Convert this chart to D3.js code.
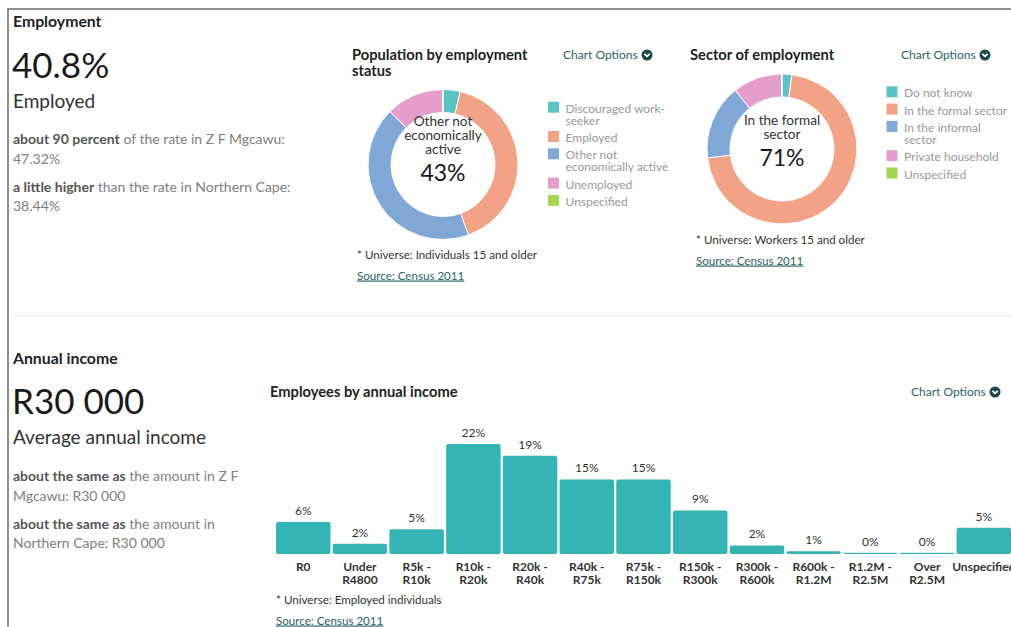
<!DOCTYPE html>
<html>
<head>
<meta charset="utf-8">
<script src="https://cdn.jsdelivr.net/npm/d3@7"></script>
<style>
  body { margin: 0; background: #fff; }
  svg { display: block; font-family: Lato, "Open Sans", sans-serif; }
</style>
</head>
<body>
<div id="chart"></div>
<script>
// employment status donut
var statusLabels = [["Discouraged work-", "seeker"], ["Employed"], ["Other not", "economically active"], ["Unemployed"], ["Unspecified"]];
var statusValues = [3.7, 40.8, 43.0, 12.4, 0.1];

// sector donut
var sectorLabels = [["Do not know"], ["In the formal sector"], ["In the informal", "sector"], ["Private household"], ["Unspecified"]];
var sectorValues = [2.1, 71.0, 16.2, 10.6, 0.1];

// income bars
var incomeCategories = [["R0"], ["Under", "R4800"], ["R5k -", "R10k"], ["R10k -", "R20k"], ["R20k -", "R40k"],
  ["R40k -", "R75k"], ["R75k -", "R150k"], ["R150k -", "R300k"], ["R300k -", "R600k"], ["R600k -", "R1.2M"],
  ["R1.2M -", "R2.5M"], ["Over", "R2.5M"], ["Unspecified"]];
var incomeValues = [6.3, 2.0, 4.9, 21.7, 19.4, 14.7, 14.7, 8.6, 1.7, 0.55, 0.25, 0.25, 5.2];

var pieColors = ["#5ac4c4", "#f2a386", "#80a8d6", "#e59ecb", "#a4d74f"];
var barColor = "#34b4b4";
var linkColor = "#286565";

var svgWidth = 1011;
var svgHeight = 627;

var svg = d3.select("#chart")
  .append("svg")
  .attr("width", svgWidth)
  .attr("height", svgHeight);

// frame
svg.append("path")
  .attr("d", "M8,627V9H1011")
  .attr("fill", "none")
  .attr("stroke", "#8f8f8f")
  .attr("stroke-width", 2);

svg.append("line")
  .attr("x1", 13).attr("x2", 1011)
  .attr("y1", 315.5).attr("y2", 315.5)
  .attr("stroke", "#f0f0f0")
  .attr("stroke-width", 2);

function addText(x, y, str, size, color, weight) {
  return svg.append("text")
    .attr("x", x).attr("y", y)
    .attr("font-size", size)
    .attr("fill", color)
    .attr("font-weight", weight || "normal")
    .text(str);
}

// mixed bold / regular comparison lines
function compare(x, y, bold, rest, second) {
  var t = svg.append("text").attr("x", x).attr("y", y).attr("font-size", 14);
  t.append("tspan").attr("font-weight", "bold").attr("fill", "#555").text(bold);
  t.append("tspan").attr("fill", "#808080").text(rest);
  addText(x, y + 19.5, second, 14, "#808080");
}

function chartOptions(x, y) {
  addText(x, y, "Chart Options", 12, linkColor);
  var g = svg.append("g").attr("transform", "translate(" + (x + 84) + "," + (y - 4) + ")");
  g.append("circle").attr("r", 5.5).attr("fill", "#1b4a4a");
  g.append("path").attr("d", "M-2.6,-1.2L0,1.4L2.6,-1.2")
    .attr("fill", "none").attr("stroke", "#fff").attr("stroke-width", 1.7);
}

function source(x, y, universe) {
  addText(x, y, universe, 11.6, "#333");
  addText(x, y + 20.5, "Source: Census 2011", 11.6, linkColor)
    .style("text-decoration", "underline");
}

// left column: employment
addText(13, 27, "Employment", 15.8, "#222", "bold");
addText(12, 78, "40.8%", 35, "#1a1a1a");
addText(13, 108, "Employed", 19, "#333");
compare(13, 144, "about 90 percent", " of the rate in Z F Mgcawu:", "47.32%");
compare(13, 191.5, "a little higher", " than the rate in Northern Cape:", "38.44%");

// left column: income
addText(13, 364, "Annual income", 15.8, "#222", "bold");
addText(12, 414, "R30 000", 35, "#1a1a1a");
addText(13, 443.5, "Average annual income", 19, "#333");
compare(13, 481, "about the same as", " the amount in Z F", "Mgcawu: R30 000");
compare(13, 528.5, "about the same as", " the amount in", "Northern Cape: R30 000");

// donut helper
function donut(cx, cy, values, labels, legendX, legendY) {
  var pie = d3.pie().sort(null).value(function (d) { return d; });
  var arc = d3.arc().innerRadius(52).outerRadius(75);
  var g = svg.append("g").attr("transform", "translate(" + cx + "," + cy + ")");

  g.selectAll("path")
    .data(pie(values))
    .enter()
    .append("path")
    .attr("d", arc)
    .attr("fill", function (d, i) { return pieColors[i]; })
    .attr("stroke", "#fff")
    .attr("stroke-width", 1);

  // centre shows the largest slice
  var maxIdx = d3.maxIndex(values);
  var words = labels[maxIdx].join(" ").replace("- ", "-").split(" ");
  var center = g.append("text").attr("text-anchor", "middle").attr("font-size", 13.6).attr("fill", "#333");
  var lines = [];
  var cur = "";
  words.forEach(function (w) {
    var test = cur ? cur + " " + w : w;
    center.text(test);
    if (cur && center.node().getComputedTextLength() > 85) {
      lines.push(cur);
      cur = w;
    } else {
      cur = test;
    }
  });
  lines.push(cur);
  center.text(null);
  var valueY = 16.5;
  lines.forEach(function (l, i) {
    center.append("tspan").attr("x", 0)
      .attr("y", valueY - 27 - (lines.length - 1 - i) * 14)
      .text(l);
  });
  g.append("text")
    .attr("text-anchor", "middle")
    .attr("y", valueY)
    .attr("font-size", 23)
    .attr("fill", "#1a1a1a")
    .text(d3.format(".0f")(values[maxIdx]) + "%");

  // legend
  var y = legendY;
  labels.forEach(function (lab, i) {
    svg.append("rect")
      .attr("x", legendX).attr("y", y - 11)
      .attr("width", 11).attr("height", 11)
      .attr("fill", pieColors[i]);
    var t = svg.append("text").attr("font-size", 12).attr("fill", "#999");
    lab.forEach(function (l, j) {
      t.append("tspan").attr("x", legendX + 17.5).attr("y", y + j * 12).text(l);
    });
    y += 17.3 + (lab.length - 1) * 12;
  });
}

// population by employment status
addText(352, 60, "Population by employment", 14.7, "#222", "bold");
addText(352, 75.5, "status", 14.7, "#222", "bold");
chartOptions(563, 59);
donut(443, 164.5, statusValues, statusLabels, 548, 112.7);
source(357, 259, "* Universe: Individuals 15 and older");

// sector of employment
addText(690, 60, "Sector of employment", 14.7, "#222", "bold");
chartOptions(901, 59);
donut(782, 149, sectorValues, sectorLabels, 886.5, 97.3);
source(696, 244, "* Universe: Workers 15 and older");

// employees by annual income
addText(270, 396.5, "Employees by annual income", 14.7, "#222", "bold");
chartOptions(911, 396);

var keys = incomeCategories.map(function (d) { return d.join(" "); });
var baseY = 554;

var xScale = d3.scaleBand()
  .domain(keys)
  .range([276, 1011])
  .paddingInner(0.04)
  .paddingOuter(0);

var yScale = d3.scaleLinear()
  .domain([0, d3.max(incomeValues)])
  .range([baseY, 444]);

var bars = svg.append("g");

bars.selectAll(".bar")
  .data(incomeValues)
  .enter()
  .append("rect")
  .attr("class", "bar")
  .attr("x", function (d, i) { return xScale(keys[i]); })
  .attr("y", function (d) { return yScale(d); })
  .attr("width", xScale.bandwidth())
  .attr("height", function (d) { return baseY - yScale(d); })
  .attr("rx", 2)
  .attr("fill", barColor);

bars.selectAll(".val")
  .data(incomeValues)
  .enter()
  .append("text")
  .attr("class", "val")
  .attr("x", function (d, i) { return xScale(keys[i]) + xScale.bandwidth() / 2; })
  .attr("y", function (d) { return yScale(d) - 7; })
  .attr("text-anchor", "middle")
  .attr("font-size", 12)
  .attr("fill", "#333")
  .text(function (d) { return d3.format(".0f")(d) + "%"; });

var xAxis = d3.axisBottom(xScale).tickSize(0);
var axisG = svg.append("g")
  .attr("transform", "translate(0," + baseY + ")")
  .call(xAxis);
axisG.select(".domain").remove();
axisG.selectAll(".tick text")
  .attr("font-family", "Lato, sans-serif")
  .attr("font-size", 12)
  .attr("font-weight", "bold")
  .attr("fill", "#333")
  .attr("dy", null)
  .attr("y", null)
  .each(function (d, i) {
    var t = d3.select(this).text(null);
    incomeCategories[i].forEach(function (l, j) {
      t.append("tspan").attr("x", 0).attr("y", 16.7 + j * 13.5).text(l);
    });
  });

source(276, 604, "* Universe: Employed individuals");
</script>
</body>
</html>
